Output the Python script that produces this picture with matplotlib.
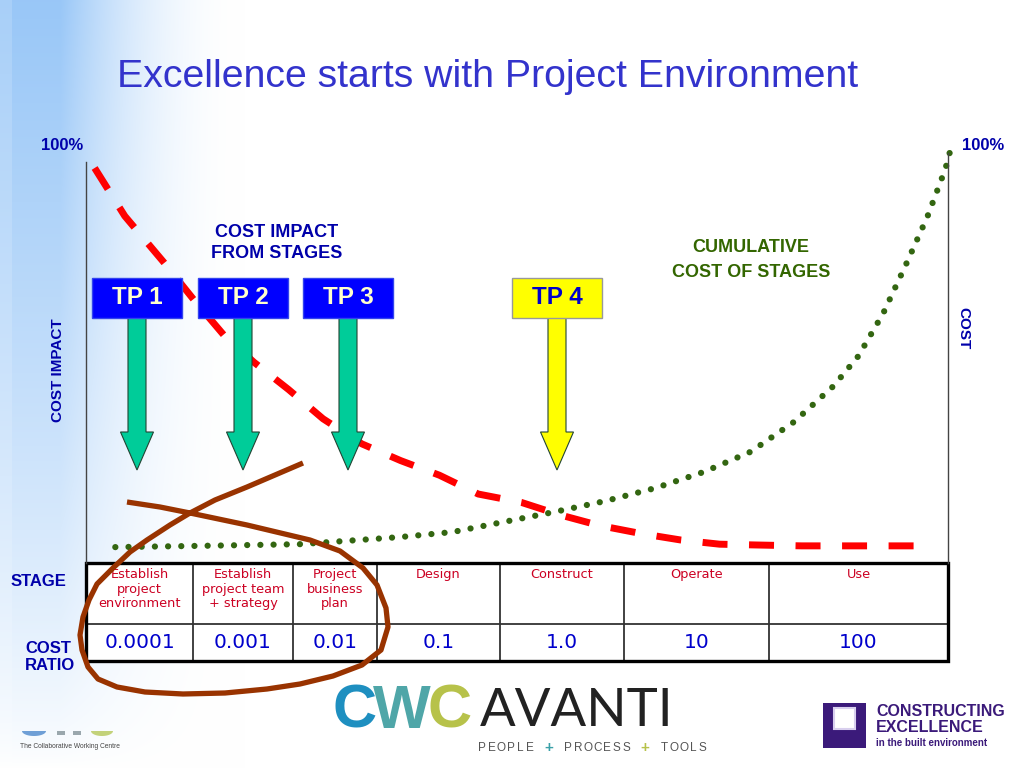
import numpy as np
import matplotlib
matplotlib.use("Agg")
import matplotlib.pyplot as plt
from matplotlib.patches import Polygon, Rectangle

plt.rcParams['font.family'] = ['Liberation Sans', 'DejaVu Sans']

# ---------------- data ----------------
# cost impact (red dashed), % of maximum along project timeline (0..100)
impact_x = [1, 4.5, 9, 12.5, 16, 19.5, 23.5, 27.5, 32, 36.5, 41, 45.5, 50.5, 55, 59.5, 64.5, 69, 73.5, 78, 83, 98]
impact_y = [94.5, 83, 72, 63, 54.5, 48, 41.5, 34.5, 28.5, 24.5, 21, 16.5, 14.5, 11.5, 9, 7, 5.5, 4.5, 4.3, 4.1, 4.1]
# cumulative cost (green dotted)
cost_x = [3.4, 13.2, 24.8, 36.4, 42.5, 48.4, 54.3, 60.2, 66.0, 71.7, 77.1, 82.1, 86.7, 89.6, 92.5, 95.1, 97.6, 99.7, 100.5]
cost_y = [3.8, 4.1, 4.5, 6.2, 7.4, 9.8, 12.2, 14.8, 17.9, 21.8, 26.6, 33.7, 42.3, 49.5, 59.8, 71.3, 82.8, 94.3, 100.5]

stages = ["Establish\nproject\nenvironment", "Establish\nproject team\n+ strategy",
          "Project\nbusiness\nplan", "Design", "Construct", "Operate", "Use"]
cost_ratios = ["0.0001", "0.001", "0.01", "0.1", "1.0", "10", "100"]
tp_labels = ["TP 1", "TP 2", "TP 3", "TP 4"]

# ---------------- layout ----------------
W, H = 1024, 768
col_edges = [86, 193, 293, 377, 500, 624, 769, 948]
row_top, row_mid, row_bot = 563, 624, 661
tp_centers = [137, 243, 348, 557]
tp_colors = ['#0000ff', '#0000ff', '#0000ff', '#ffff00']
tp_text_colors = ['#ffffcc', '#ffffcc', '#ffffcc', '#0000cc']
arrow_colors = ['#00cc99', '#00cc99', '#00cc99', '#ffff00']

fig = plt.figure(figsize=(10.24, 7.68), dpi=100)

bg = fig.add_axes([0, 0, 1, 1], label='bg')
bg.set_xlim(0, W); bg.set_ylim(H, 0); bg.axis('off')

# background gradient
xx = np.arange(W)[None, :]
yy = np.arange(H)[:, None]
fx = np.clip((245 - xx) / 185.0, 0, 1) ** 2
fx = fx * np.where(xx < 12, 0.85, 1.0)
fy = np.clip(1 - yy / 768.0, 0, 1) ** 0.8
a = (fx * fy)[..., None]
blue = np.array([0.60, 0.78, 0.97])
img = (1 - a) * np.ones(3) + a * blue
bg.imshow(img, extent=(0, W, H, 0), aspect='auto', zorder=0)

# title
bg.text(488, 77, "Excellence starts with Project Environment", fontsize=28.3,
        color='#3333cc', ha='center', va='center')

dark_blue = '#0000aa'
bg.text(62, 146, "100%", fontsize=12, fontweight='bold', color=dark_blue, ha='center', va='center')
bg.text(983, 146, "100%", fontsize=12, fontweight='bold', color=dark_blue, ha='center', va='center')
bg.text(58, 370, "COST IMPACT", fontsize=11, fontweight='bold', color=dark_blue,
        ha='center', va='center', rotation=90)
bg.text(963, 328, "COST", fontsize=11, fontweight='bold', color=dark_blue,
        ha='center', va='center', rotation=270)
bg.text(277, 243, "COST IMPACT\nFROM STAGES", fontsize=13, fontweight='bold', color=dark_blue,
        ha='center', va='center', linespacing=1.35)
bg.text(751, 260, "CUMULATIVE\nCOST OF STAGES", fontsize=13, fontweight='bold', color='#336600',
        ha='center', va='center', linespacing=1.65)
bg.text(38, 582, "STAGE", fontsize=12, fontweight='bold', color=dark_blue, ha='center', va='center')
bg.text(25, 657, "COST\nRATIO", fontsize=12, fontweight='bold', color=dark_blue, ha='left',
        va='center', linespacing=1.1)

# table
bg.add_patch(Rectangle((col_edges[0], row_top), col_edges[-1] - col_edges[0], row_bot - row_top,
                       facecolor='white', edgecolor='none', zorder=1))
for xe in col_edges[1:-1]:
    bg.plot([xe, xe], [row_top, row_bot], color='#333333', lw=1.3, zorder=2)
bg.plot([col_edges[0], col_edges[-1]], [row_mid, row_mid], color='#333333', lw=1.3, zorder=2)
bg.add_patch(Rectangle((col_edges[0], row_top), col_edges[-1] - col_edges[0], row_bot - row_top,
                       facecolor='none', edgecolor='black', lw=2.4, zorder=3))
for i, (s, v) in enumerate(zip(stages, cost_ratios)):
    cx = (col_edges[i] + col_edges[i + 1]) / 2
    bg.text(cx, 568, s, fontsize=9.3, color='#cc0022', ha='center', va='top',
            family='DejaVu Sans', linespacing=1.17, zorder=4)
    bg.text(cx, 643, v, fontsize=14.5, color='#0000cc', ha='center', va='center',
            family='DejaVu Sans', zorder=4)

# ---------------- chart axes (curves) ----------------
ax = fig.add_axes([86 / W, (H - 563) / H, 862 / W, 418 / H], label='chart')
ax.set_xlim(0, 100); ax.set_ylim(0, 100)
ax.patch.set_alpha(0)
for sp in ['top', 'bottom']:
    ax.spines[sp].set_visible(False)
for sp in ['left', 'right']:
    ax.spines[sp].set_color('#444444')
    ax.spines[sp].set_linewidth(1.0)
ax.spines['left'].set_bounds(0, 96)
ax.spines['right'].set_bounds(0, 98)
ax.set_xticks([]); ax.set_yticks([])
ax.plot(impact_x, impact_y, color='#ff0000', lw=5, linestyle=(0, (3.6, 3.1)),
        dash_capstyle='butt', clip_on=False)
ax.plot(cost_x, cost_y, color='#336611', lw=4.5, linestyle=(0, (0.01, 2.1)),
        dash_capstyle='round', clip_on=False)

# ---------------- foreground ----------------
fg = fig.add_axes([0, 0, 1, 1], label='fg')
fg.set_xlim(0, W); fg.set_ylim(H, 0); fg.axis('off')
fg.patch.set_alpha(0)

for cx, lab, fc, tc, ac in zip(tp_centers, tp_labels, tp_colors, tp_text_colors, arrow_colors):
    ec = '#999999' if fc == '#ffff00' else '#3344ee'
    fg.add_patch(Rectangle((cx - 45, 278), 90, 40, facecolor=fc, edgecolor=ec, lw=1, zorder=3))
    fg.text(cx, 298, lab, fontsize=17.5, fontweight='bold', color=tc, ha='center', va='center', zorder=4)
    sw, hw = 9, 16.5
    pts = [(cx - sw, 318), (cx + sw, 318), (cx + sw, 432), (cx + hw, 432), (cx, 470),
           (cx - hw, 432), (cx - sw, 432)]
    fg.add_patch(Polygon(pts, closed=True, facecolor=ac, edgecolor='#224433', lw=0.8, zorder=2))

# hand drawn loop
loop = [(127, 502), (160, 507), (190, 513), (247, 525), (310, 540), (340, 551), (363, 568),
        (377, 585), (386, 608), (388, 627), (381, 650), (362, 665), (333, 676), (300, 684),
        (267, 689), (225, 693), (183, 694), (145, 692), (117, 687), (98, 679), (88, 667),
        (82, 650), (80, 635), (83, 617), (89, 600), (97, 584), (113, 568), (130, 552),
        (147, 540), (170, 525), (190, 513), (215, 500), (247, 487), (275, 475), (303, 463)]
lx, ly = zip(*loop)
fg.plot(lx, ly, color='#993300', lw=3.8, solid_joinstyle='round', solid_capstyle='butt', zorder=5)

# logos
cwc_cols = ['#1e8fc0', '#4fa6a8', '#b7c24a']
for xc, ch, col in zip([355, 402, 450], "CWC", cwc_cols):
    fg.text(xc, 712, ch, fontsize=44, fontweight='bold', color=col, ha='center', va='center')
fg.text(577, 712, "AVANTI", fontsize=38, color='#222222', ha='center', va='center',
        fontweight='normal', family=['Lato', 'Liberation Sans'])
tag = "PEOPLE + PROCESS + TOOLS"
plus_cols = ['#3aa0a8', '#b7c24a']
k = 0
for i, ch in enumerate(tag):
    if ch == ' ':
        continue
    col = '#555555'
    fs = 8.5
    if ch == '+':
        col = plus_cols[k]; k += 1; fs = 11
    fg.text(482 + i * 9.6, 748, ch, fontsize=fs, color=col, ha='center', va='center',
            fontweight='bold' if ch == '+' else 'normal')

fg.add_patch(Rectangle((823, 703), 43, 45, facecolor='#3b1a7a', edgecolor='none'))
fg.add_patch(Rectangle((834, 708), 21, 21, facecolor='white', edgecolor='#d8cfee', lw=1.5))
fg.text(876, 711, "CONSTRUCTING", fontsize=11.5, fontweight='bold', color='#3b1a7a',
        ha='left', va='center')
fg.text(876, 727, "EXCELLENCE", fontsize=11.5, fontweight='bold', color='#3b1a7a',
        ha='left', va='center')
fg.text(876, 743, "in the built environment", fontsize=7, fontweight='bold', color='#3b1a7a',
        ha='left', va='center')

# partially visible Collaborative Working Centre logo
t = np.linspace(0, np.pi, 30)
for cxl, rx, col in [(34, 12, '#6f9fd6'), (102, 11, '#c3d27a')]:
    fg.add_patch(Polygon(np.column_stack([cxl + rx * np.cos(t), 731 + 5 * np.sin(t)]),
                         closed=True, facecolor=col, edgecolor='none'))
fg.add_patch(Rectangle((57, 731), 8, 4, facecolor='#9aa7ad', edgecolor='none'))
fg.add_patch(Rectangle((73, 731), 8, 4, facecolor='#9aa7ad', edgecolor='none'))
fg.text(20, 746, "The Collaborative Working Centre", fontsize=4.8, color='#444444',
        ha='left', va='center')

fig.savefig("out.png", dpi=100)
